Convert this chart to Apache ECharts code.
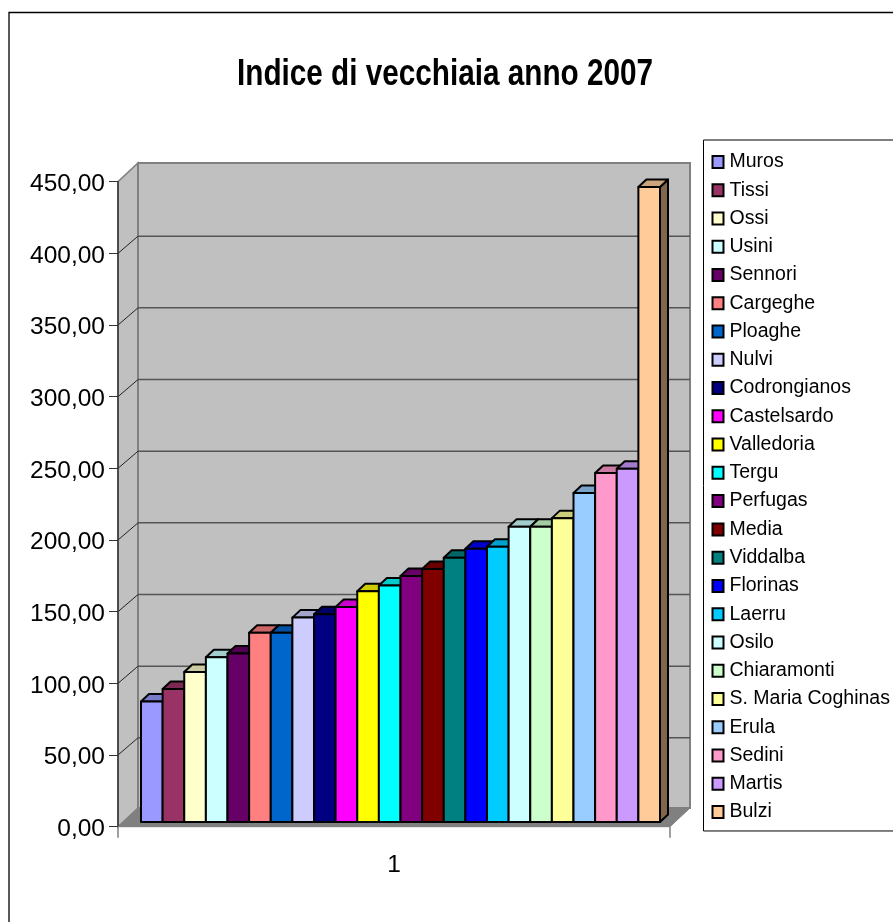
<!DOCTYPE html>
<html>
<head>
<meta charset="utf-8">
<style>html,body{margin:0;padding:0;background:#fff;overflow:hidden}#c{width:893px;height:922px}</style>
<script src="https://cdn.jsdelivr.net/npm/echarts@6/dist/echarts.min.js"></script>
</head>
<body>
<div id="c"></div>
<script>
const categories = ['1'];
const towns = ['Muros','Tissi','Ossi','Usini','Sennori','Cargeghe','Ploaghe','Nulvi','Codrongianos','Castelsardo','Valledoria','Tergu','Perfugas','Media','Viddalba','Florinas','Laerru','Osilo','Chiaramonti','S. Maria Coghinas','Erula','Sedini','Martis','Bulzi'];
const values = [84,92.8,104.6,115,117.5,132,132,142.6,145,150,161,165,171.7,176.5,184.4,190.7,192,206,206,212,229.5,243.5,246.5,443];
const colors = ['#9999ff','#993366','#ffffcc','#ccffff','#660066','#ff8080','#0066cc','#ccccff','#000080','#ff00ff','#ffff00','#00ffff','#800080','#800000','#008080','#0000ff','#00ccff','#ccffff','#ccffcc','#ffff99','#99ccff','#ff99cc','#cc99ff','#ffcc99'];
const gridTicks = [0,50,100,150,200,250,300,350,400,450];

const FONT = '"Liberation Sans", Arial, sans-serif';
const WALL = {dx: 20, dy: -18.7, lineDy: -17.2};
const BAR = {shiftY: -4.7, dx: 8, dy: -7.5, start: 23 / 552, span: 519 / 552};

function shade(hex, f) {
  const n = parseInt(hex.slice(1), 16);
  const c = [n >> 16 & 255, n >> 8 & 255, n & 255].map(v => Math.round(v * f));
  return 'rgb(' + c.join(',') + ')';
}

function renderWalls(params, api) {
  const bx = params.coordSys.x, bw = params.coordSys.width;
  const y0 = api.coord([0, 0])[1];
  const yTop = api.coord([0, 450])[1];
  const r = bx + bw, d = WALL;
  const kids = [
    {type: 'polygon', shape: {points: [[bx, y0], [bx + d.dx, y0 + d.dy], [bx + d.dx, yTop + d.dy], [bx, yTop]]}, style: {fill: '#c0c0c0', stroke: '#808080', lineWidth: 1.5}},
    {type: 'rect', shape: {x: bx + d.dx, y: yTop + d.dy, width: bw, height: y0 - yTop}, style: {fill: '#c0c0c0', stroke: '#808080', lineWidth: 2}},
    {type: 'polygon', shape: {points: [[bx, y0], [r, y0], [r + d.dx, y0 + d.dy], [bx + d.dx, y0 + d.dy]]}, style: {fill: '#808080', stroke: '#808080', lineWidth: 1}}
  ];
  gridTicks.slice(1, -1).forEach(t => {
    const y = api.coord([0, t])[1];
    kids.push({type: 'polyline', shape: {points: [[bx, y], [bx + d.dx, y + d.lineDy]]}, style: {stroke: '#222', lineWidth: 1, fill: null}});
    kids.push({type: 'line', shape: {x1: bx + d.dx, y1: y + d.lineDy, x2: r + d.dx, y2: y + d.lineDy}, style: {stroke: '#555', lineWidth: 1.5}});
  });
  return {type: 'group', children: kids};
}

function renderBar(i) {
  return function (params, api) {
    const band = params.coordSys.width;
    const pitch = band * BAR.span / towns.length;
    const p = api.coord([0, api.value(1)]);
    const left = params.coordSys.x + band * BAR.start + i * pitch;
    const right = left + pitch;
    const y0 = api.coord([0, 0])[1] + BAR.shiftY;
    const top = p[1] + BAR.shiftY;
    const c = colors[i];
    const line = {stroke: '#000', lineWidth: 2, lineJoin: 'round'};
    return {type: 'group', children: [
      {type: 'polygon', shape: {points: [[right, top], [right + BAR.dx, top + BAR.dy], [right + BAR.dx, y0 + BAR.dy], [right, y0]]}, style: Object.assign({fill: shade(c, 0.5)}, line)},
      {type: 'polygon', shape: {points: [[left, top], [left + BAR.dx, top + BAR.dy], [right + BAR.dx, top + BAR.dy], [right, top]]}, style: Object.assign({fill: shade(c, 0.8)}, line)},
      {type: 'rect', shape: {x: left, y: top, width: pitch, height: y0 - top}, style: Object.assign({fill: c}, line)}
    ]};
  };
}

const series = [{
  name: 'walls', type: 'custom', silent: true, z: 1, clip: false,
  renderItem: renderWalls, data: [[0, 0]], encode: {x: 0, y: 1}
}].concat(towns.map((name, i) => ({
  name, type: 'custom', z: 2, clip: false,
  renderItem: renderBar(i),
  itemStyle: {color: colors[i], borderColor: '#000', borderWidth: 1.5},
  data: [[0, values[i]]], encode: {x: 0, y: 1}
})));

const chart = echarts.init(document.getElementById('c'), null, {renderer: 'canvas'});
chart.setOption({
  backgroundColor: '#fff',
  animation: false,
  graphic: [
    {type: 'rect', z: -1, shape: {x: 9, y: 12.5, width: 1000, height: 1000}, style: {fill: 'none', stroke: '#000', lineWidth: 1.3}},
    {type: 'text', left: 237, top: 57, scaleX: 0.825, originX: 0, z: 10, style: {text: 'Indice di vecchiaia anno 2007', font: 'bold 36px ' + FONT, fill: '#000'}}
  ],
  grid: {left: 118, right: 223, top: 181.7, bottom: 95.3, containLabel: false},
  xAxis: {
    type: 'category', data: categories, z: 5,
    axisLine: {lineStyle: {color: '#808080', width: 1}},
    axisTick: {show: true, length: 11, lineStyle: {color: '#808080', width: 1.5}},
    axisLabel: {fontFamily: FONT, fontSize: 24.5, color: '#000', margin: 26},
    splitLine: {show: false}
  },
  yAxis: {
    type: 'value', min: 0, max: 450, interval: 50, z: 5,
    axisLine: {show: true, lineStyle: {color: '#333', width: 1.5}},
    axisTick: {show: true, length: 9, lineStyle: {color: '#333', width: 1}},
    axisLabel: {
      color: '#000', margin: 13,
      formatter: v => '{a|' + v.toFixed(2).replace('.', ',') + '}',
      rich: {a: {fontFamily: FONT, fontSize: 24.5, color: '#000', padding: [5, 0, 0, 0]}}
    },
    splitLine: {show: false}
  },
  legend: {
    orient: 'vertical', left: 703.5, top: 140,
    data: towns, selectedMode: false,
    padding: [12, 4, 9, 8],
    itemGap: 8.26, itemWidth: 11, itemHeight: 12,
    icon: 'rect',
    borderColor: '#000', borderWidth: 1, backgroundColor: '#fff',
    textStyle: {fontFamily: FONT, fontSize: 19.5, color: '#000', padding: [0, 0, 0, 1]}
  },
  series
});
</script>
</body>
</html>
